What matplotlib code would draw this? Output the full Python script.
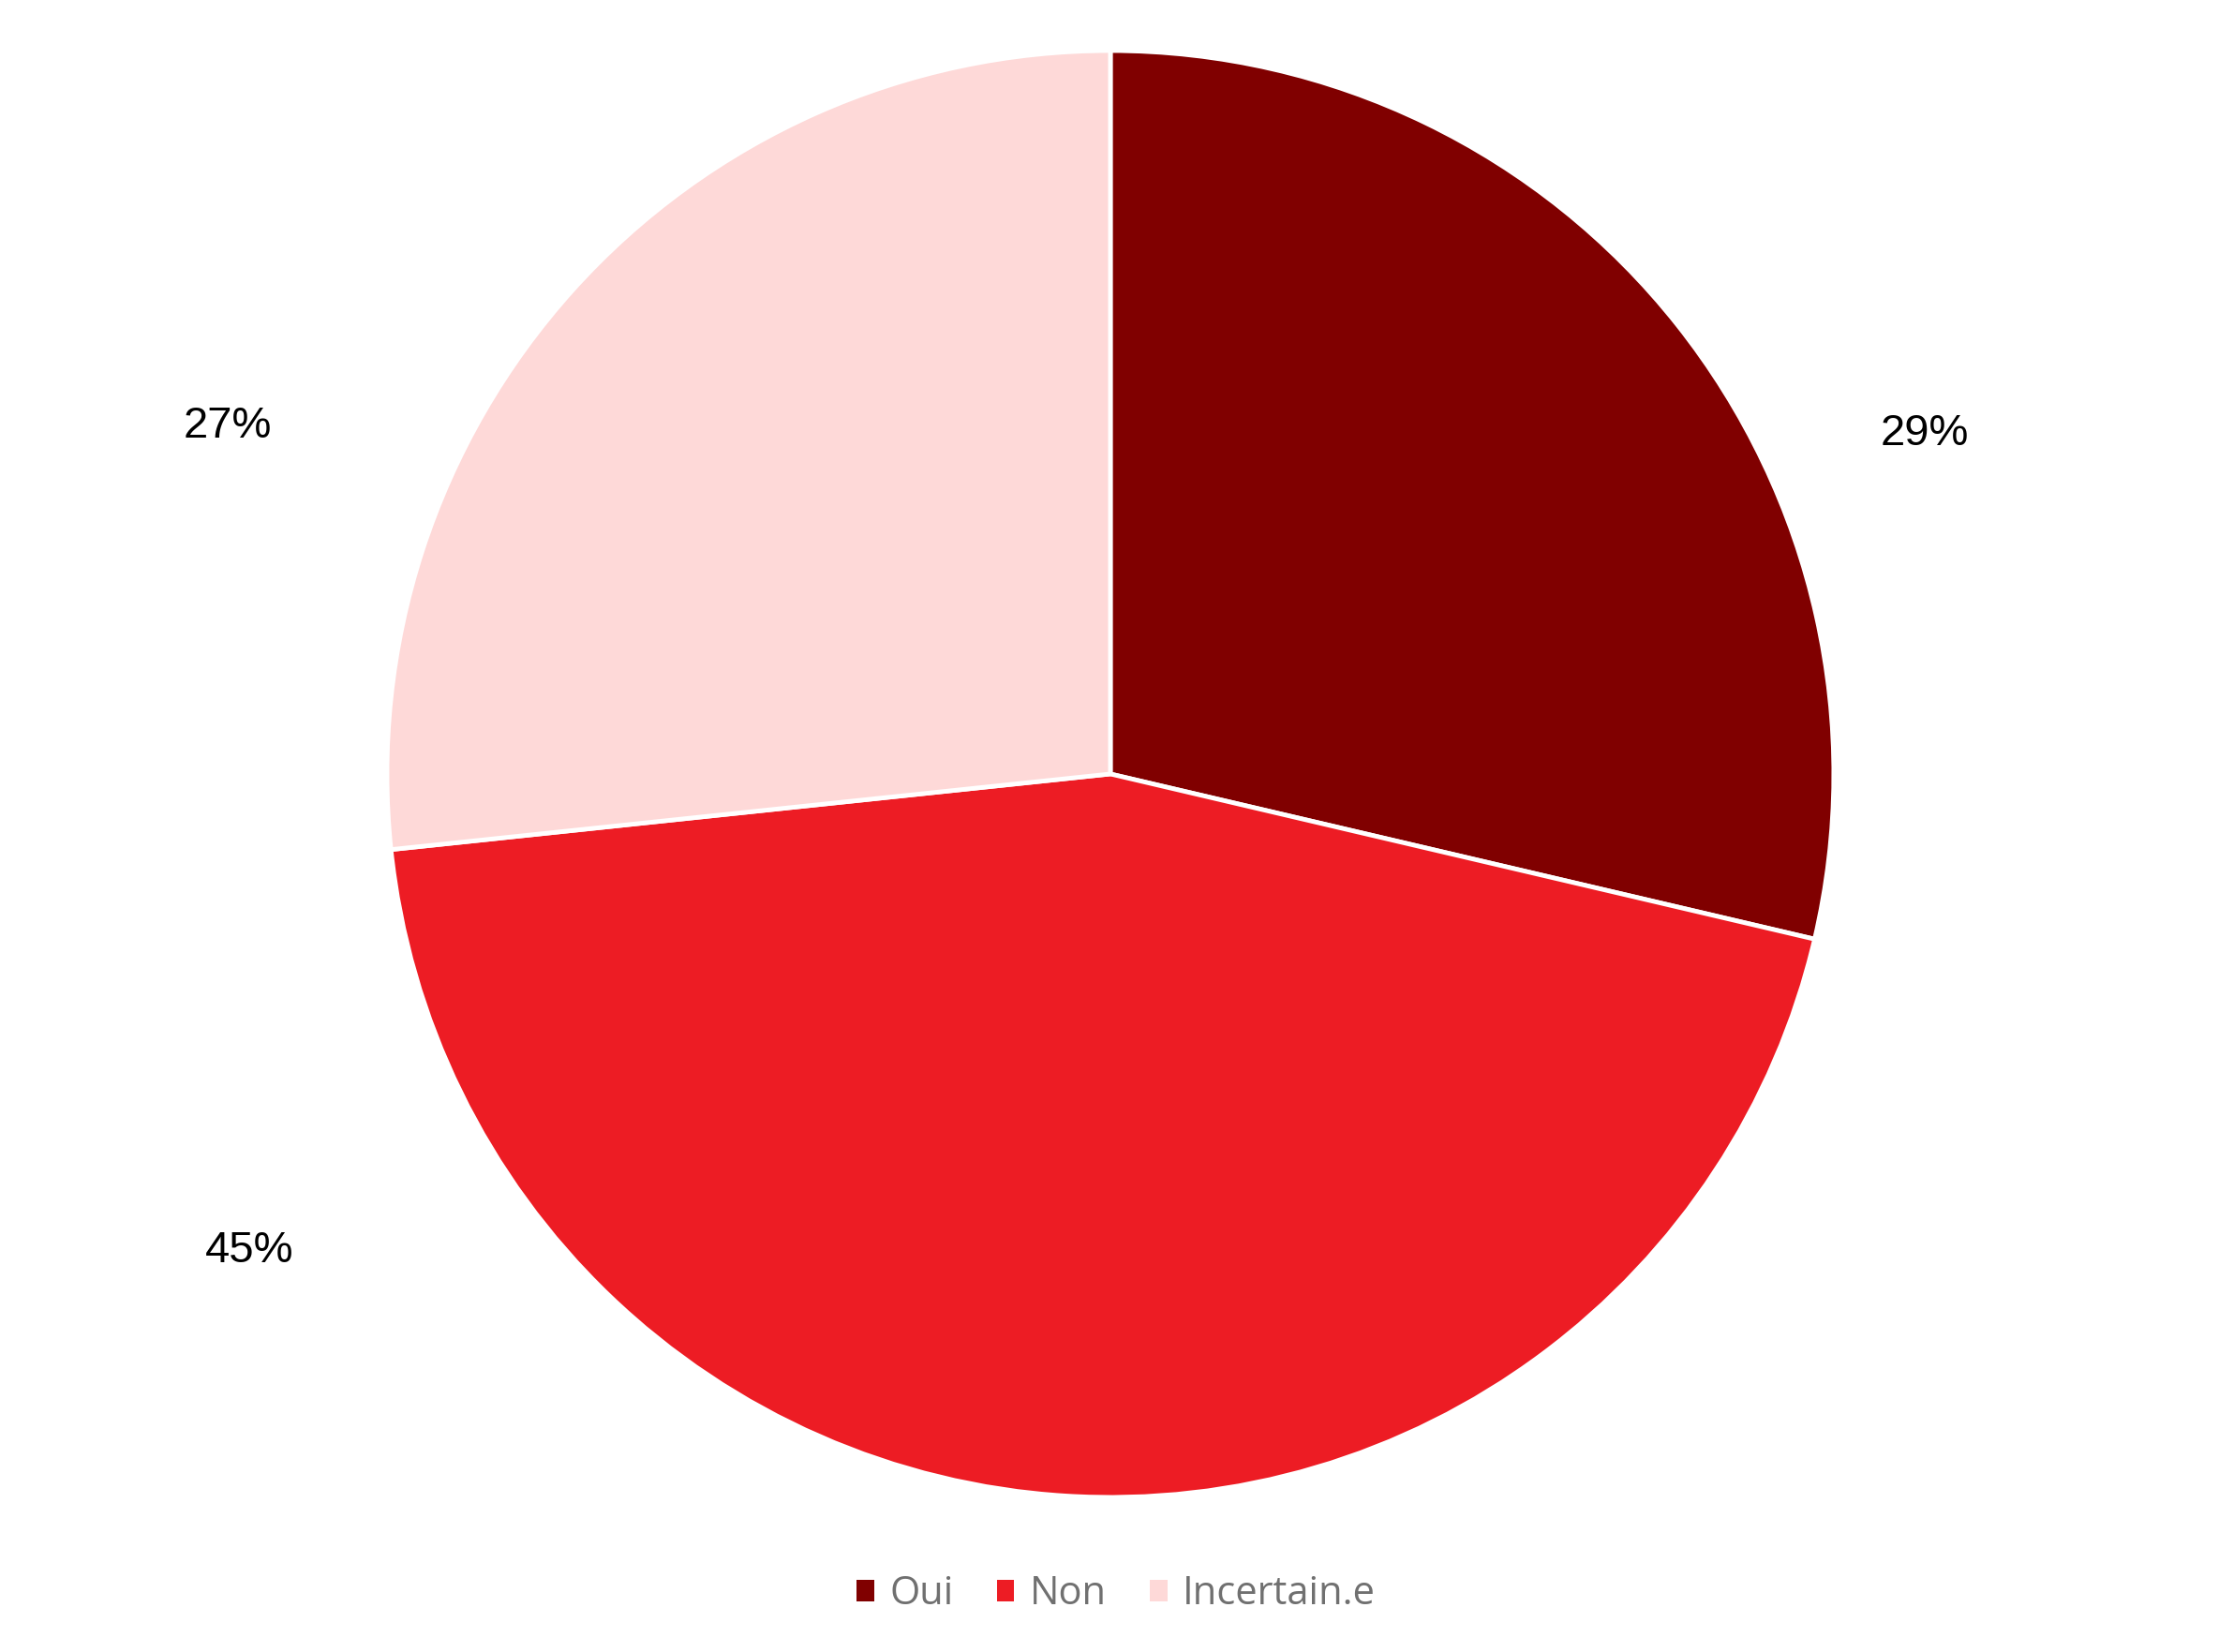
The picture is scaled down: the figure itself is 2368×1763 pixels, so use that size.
import matplotlib.pyplot as plt
from matplotlib.patches import Patch

labels = ["Oui", "Non", "Incertain.e"]
values = [43, 67, 40]
pct_text = ["29%", "45%", "27%"]
colors = ["#800000", "#ED1C24", "#FED9D8"]
# label anchor spots, in pie-radius units
label_pos = [(1.125, 0.47), (-1.19, -0.66), (-1.22, 0.48)]

fig = plt.figure(figsize=(23.68, 17.63), dpi=100)
ax = fig.add_axes([0.1744, 0.0936, 0.652, 0.8758])

ax.pie(values, colors=colors, startangle=90, counterclock=False, radius=1,
       wedgeprops=dict(edgecolor="white", linewidth=3.5))
ax.set_xlim(-1, 1)
ax.set_ylim(-1, 1)
ax.set_aspect("equal")
ax.axis("off")

for t, (x, y) in zip(pct_text, label_pos):
    ax.text(x, y, t, ha="center", va="center", fontsize=34,
            family="Liberation Sans", color="black")

handles = [Patch(facecolor=c, edgecolor="none") for c in colors]
fig.legend(handles, labels, loc="center", bbox_to_anchor=(0.503, 0.035), ncol=3,
           frameon=False, handlelength=0.45, handleheight=0.45, handletextpad=0.4,
           columnspacing=1.1, prop=dict(family="Open Sans", size=30),
           labelcolor="#707070")

fig.savefig("out.png", dpi=100)
